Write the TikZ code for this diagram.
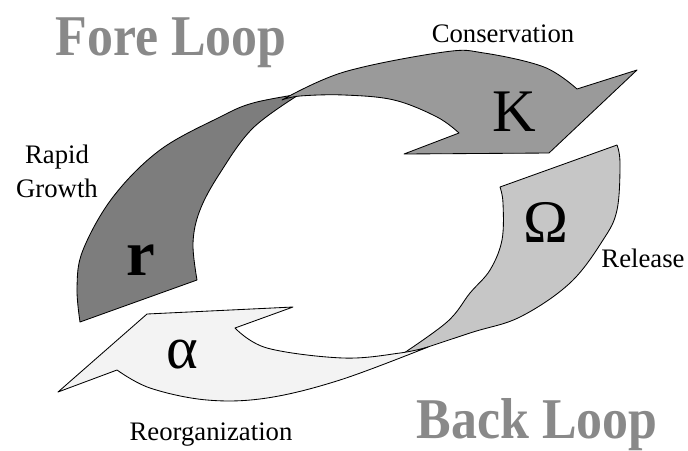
\documentclass[tikz,border=0pt]{standalone}
\usepackage{fontspec}
\setmainfont{Liberation Serif}
\definecolor{rgray}{HTML}{7D7D7D}
\definecolor{kgray}{HTML}{9A9A9A}
\definecolor{wgray}{HTML}{C6C6C6}
\definecolor{agray}{HTML}{F3F3F3}
\definecolor{loopgray}{HTML}{898989}
\tikzset{
  blade/.style={draw=black,line width=.6pt,line join=round},
  phase/.style={anchor=base,font=\rmfamily\fontsize{19}{23}\selectfont},
  sym/.style={anchor=base,font=\rmfamily\fontsize{43}{50}\selectfont},
  loopname/.style={anchor=base,text=loopgray,font=\rmfamily\fontsize{41}{48}\selectfont\bfseries}
}
\begin{document}
\begin{tikzpicture}[x=.025cm,y=-.025cm]
\useasboundingbox (0,0) rectangle (688,450);
% r : rapid growth
\filldraw[blade,fill=rgray] (80,322) -- plot[smooth,tension=.6] coordinates {(80,322) (77,287) (83,250) (113,197) (160,150) (220,117) (253,103) (300,94)}
  -- plot[smooth,tension=.6] coordinates {(300,94) (253,128) (220,173) (200,210) (193,243) (197,280)} -- cycle;
% K : conservation
\filldraw[blade,fill=kgray] plot[smooth,tension=.6] coordinates {(282,100) (344,72) (444,52) (484,53) (544,67) (577,89)}
  -- (637,70) -- (549,153) -- (404,154) -- (459,133)
  -- plot[smooth,tension=.6] coordinates {(459,133) (437,117) (394,100) (344,95) (300,96) (282,100)} -- cycle;
% Omega : release
\filldraw[blade,fill=wgray] (500,187) -- (617,145) -- plot[smooth,tension=.6] coordinates {(617,145) (620,163) (617,210) (603,240) (570,283) (520,317) (470,333) (398,357)}
  -- plot[smooth,tension=.6] coordinates {(398,357) (447,322) (470,293) (490,270) (502,240) (503,203) (500,187)} -- cycle;
% alpha : reorganization
\filldraw[blade,fill=agray] (58,392) -- (147,314) -- (293,307) -- (235,328)
  -- plot[smooth,tension=.6] coordinates {(235,328) (267,348) (343,358) (400,353) (428,347)}
  -- plot[smooth,tension=.6] coordinates {(428,347) (340,380) (267,398) (207,400) (150,388) (117,370)} -- cycle;
% symbols
\node[sym] (symK) at (514,131) {K};
\node[sym,font=\rmfamily\fontsize{46}{52}\selectfont\bfseries] (symR) at (141,275) {r};
\node[sym] (symW) at (546,242) {Ω};
\node[sym] (symA) at (182,368) {α};
% phase labels
\node[phase] (cons) at (503,42) {Conservation};
\node[phase] (rapid) at (57,163) {Rapid};
\node[phase] (growth) at (57,197) {Growth};
\node[phase] (rel) at (643,267) {Release};
\node[phase] (reorg) at (211,440) {Reorganization};
% loops
\node[loopname] (fore) at (171,55) {\scalebox{.9}[1]{Fore Loop}};
\node[loopname] (back) at (537,438) {\scalebox{.9}[1]{Back Loop}};
\end{tikzpicture}
\end{document}
